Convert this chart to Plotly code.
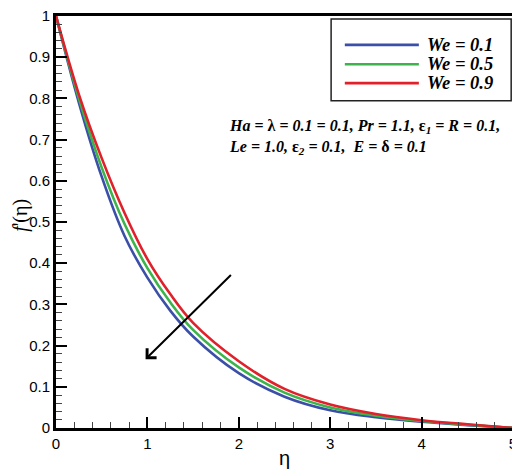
import plotly.graph_objects as go

# eta grid and f'(eta)
eta = [0, 0.25, 0.5, 0.75, 1.0, 1.25, 1.5, 2.0, 2.5, 3.0, 3.5, 4.0, 4.5, 5.0]
fp_we01 = [1.0, 0.79, 0.61, 0.466, 0.365, 0.285, 0.222, 0.133, 0.076, 0.043, 0.026, 0.015, 0.007, 0.0]
fp_we05 = [1.0, 0.80, 0.632, 0.495, 0.388, 0.305, 0.238, 0.147, 0.086, 0.050, 0.030, 0.017, 0.008, 0.0]
fp_we09 = [1.0, 0.81, 0.655, 0.522, 0.41, 0.325, 0.255, 0.162, 0.095, 0.057, 0.034, 0.019, 0.009, 0.0]

labels = ["We = 0.1", "We = 0.5", "We = 0.9"]
colors = ["#3b4fa8", "#3cb44b", "#e0202a"]
series = [fp_we01, fp_we05, fp_we09]

x_ticks = [0, 1, 2, 3, 4, 5]
y_ticks = [0, 0.1, 0.2, 0.3, 0.4, 0.5, 0.6, 0.7, 0.8, 0.9, 1]

fig = go.Figure()
for lab, col, ys in zip(labels, colors, series):
    fig.add_trace(go.Scatter(x=eta, y=ys, mode="lines", name=lab,
                             line=dict(color=col, width=2.6, shape="spline", smoothing=1.0),
                             showlegend=False))

axis_common = dict(
    showline=True, linecolor="black", linewidth=3, mirror=True,
    ticks="inside", ticklen=11, tickwidth=2, tickcolor="black",
    showgrid=False, zeroline=False, automargin=False,
    ticklabeloverflow="allow",
    tickfont=dict(family="Liberation Sans", size=15, color="black"),
)

fig.update_xaxes(range=[0, 5], tickvals=x_ticks,
                 minor=dict(dtick=0.2, ticks="inside", ticklen=6, tickwidth=1, tickcolor="#444"),
                 **axis_common)
fig.update_yaxes(range=[0, 1], tickvals=y_ticks,
                 minor=dict(dtick=0.02, ticks="inside", ticklen=6, tickwidth=1, tickcolor="#444"),
                 **axis_common)

# axis titles as annotations so they sit where the reference has them
fig.add_annotation(xref="paper", yref="paper", x=0.5, y=-0.0728, xanchor="center", yanchor="middle",
                   showarrow=False, text="η",
                   font=dict(family="Liberation Sans", size=20, color="black"))
fig.add_annotation(xref="paper", yref="paper", x=-0.077, y=0.517, xanchor="center", yanchor="middle",
                   showarrow=False, textangle=-90, text="<i>f</i>'(η)",
                   font=dict(family="Liberation Serif", size=20, color="black"))

# legend box drawn by hand so the sample lines match the reference length
fig.add_shape(type="rect", xref="paper", yref="paper", x0=0.602, x1=0.996, y0=0.794, y1=0.993,
              line=dict(color="#222", width=1.5), fillcolor="white")
rows = [0.930, 0.883, 0.837]
for lab, col, ry in zip(labels, colors, rows):
    fig.add_shape(type="line", xref="paper", yref="paper", x0=0.632, x1=0.794, y0=ry, y1=ry,
                  line=dict(color=col, width=2.6))
    fig.add_annotation(xref="paper", yref="paper", x=0.807, y=ry, xanchor="left", yanchor="middle",
                       showarrow=False, text=f"<b><i>{lab}</i></b>",
                       font=dict(family="Liberation Serif", size=18.5, color="black"))

params = ("<b><i>Ha</i> = λ = <i>0.1 = 0.1, Pr = 1.1, </i>ε<sub><i>1</i></sub><i> = R = 0.1,</i><br>"
          "<i>Le = 1.0, </i>ε<sub><i>2</i></sub><i> = 0.1,  E = </i>δ<i> = 0.1</i></b>")
fig.add_annotation(xref="paper", yref="paper", x=0.3735, y=0.760, xanchor="left", yanchor="top",
                   showarrow=False, align="left", text=params,
                   font=dict(family="Liberation Serif", size=16, color="black"))

# arrow showing increasing We
fig.add_annotation(x=0.98, y=0.167, ax=1.93, ay=0.375, xref="x", yref="y", axref="x", ayref="y",
                   showarrow=True, arrowhead=4, arrowsize=1.3, arrowwidth=2, arrowcolor="black", text="")

# page body keeps its default 8px margin, so the figure is sized to fit the window
fig.update_layout(
    width=512, height=462,
    margin=dict(l=48, r=7, t=8, b=42),
    paper_bgcolor="white", plot_bgcolor="white",
)

fig.write_html("out.html")
